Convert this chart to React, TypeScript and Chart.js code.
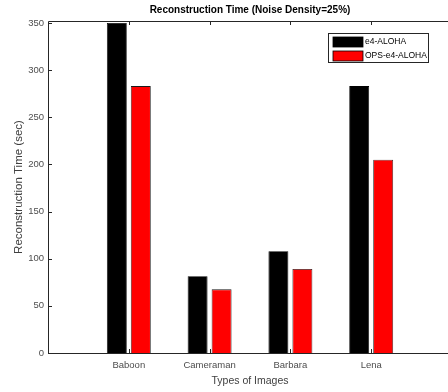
import React, { useEffect, useRef } from "react";
import { Chart, registerables } from "chart.js";

Chart.register(...registerables);

const categories = ["Baboon", "Cameraman", "Barbara", "Lena"];
const categoryPositions = [1, 2, 3, 4];
const e4Aloha = [350, 81.5, 108, 283];
const opsE4Aloha = [283, 67.5, 89, 205];
const yTicks = [0, 50, 100, 150, 200, 250, 300, 350];
const seriesNames = ["e4-ALOHA", "OPS-e4-ALOHA"];

const FONT = "'Liberation Sans', Arial, sans-serif";

const boxPlugin = {
  id: "matlabBox",
  afterDatasetsDraw(chart: any) {
    const { ctx, chartArea: a, scales } = chart;
    const xs = scales.x;
    const ys = scales.y;
    ctx.save();
    ctx.strokeStyle = "#262626";
    ctx.lineWidth = 1;
    ctx.beginPath();
    ctx.rect(Math.round(a.left) + 0.5, Math.round(a.top) + 0.5, Math.round(a.right - a.left), Math.round(a.bottom - a.top));
    ctx.stroke();
    const tl = 4;
    ctx.beginPath();
    yTicks.forEach((v) => {
      const py = Math.round(ys.getPixelForValue(v)) + 0.5;
      ctx.moveTo(a.left, py);
      ctx.lineTo(a.left + tl, py);
      ctx.moveTo(a.right, py);
      ctx.lineTo(a.right - tl, py);
    });
    categoryPositions.forEach((v) => {
      const px = Math.round(xs.getPixelForValue(v)) + 0.5;
      ctx.moveTo(px, a.top);
      ctx.lineTo(px, a.top + tl);
      ctx.moveTo(px, a.bottom);
      ctx.lineTo(px, a.bottom - tl);
    });
    ctx.stroke();

    // legend
    const lx = 328.5, ly = 33.5, lw = 100, lh = 29;
    ctx.fillStyle = "#ffffff";
    ctx.fillRect(lx, ly, lw, lh);
    ctx.strokeStyle = "#262626";
    ctx.strokeRect(lx, ly, lw, lh);
    ctx.font = `8.5px ${FONT}`;
    ctx.textBaseline = "middle";
    ctx.textAlign = "left";
    chart.data.datasets.forEach((ds: any, i: number) => {
      const cy = 42 + i * 14;
      ctx.fillStyle = ds.backgroundColor;
      ctx.fillRect(333, cy - 5, 30, 10);
      ctx.strokeStyle = "#000";
      ctx.lineWidth = 0.8;
      ctx.strokeRect(333, cy - 5, 30, 10);
      ctx.fillStyle = "#000";
      ctx.fillText(ds.label, 365, cy);
    });
    ctx.restore();
  },
};

export default function App() {
  const ref = useRef<HTMLCanvasElement>(null);
  useEffect(() => {
    if (!ref.current) return;
    const chart = new Chart(ref.current, {
      type: "bar",
      data: {
        datasets: [
          {
            label: seriesNames[0],
            data: categoryPositions.map((x, i) => ({ x, y: e4Aloha[i] })),
            backgroundColor: "#000000",
            borderColor: "#000000",
            borderWidth: 0.8,
          },
          {
            label: seriesNames[1],
            data: categoryPositions.map((x, i) => ({ x, y: opsE4Aloha[i] })),
            backgroundColor: "#ff0000",
            borderColor: "#1a1a1a",
            borderWidth: 0.8,
          },
        ],
      },
      options: {
        responsive: false,
        animation: false,
        categoryPercentage: 0.594,
        barPercentage: 0.83,
        layout: { padding: { left: 0, right: 4, top: 0, bottom: 0 } },
        plugins: {
          legend: { display: false },
          tooltip: { enabled: false },
          title: {
            display: true,
            text: "Reconstruction Time (Noise Density=25%)",
            fullSize: false,
            color: "#000000",
            font: { family: FONT, size: 10, weight: "bold" },
            padding: { top: 4, bottom: 5 },
          },
        },
        scales: {
          x: {
            type: "linear",
            offset: false,
            min: 0,
            max: 5,
            grid: { display: false, drawTicks: false, offset: false },
            border: { display: false },
            afterBuildTicks: (s: any) => {
              s.ticks = categoryPositions.map((v) => ({ value: v }));
            },
            afterFit: (s: any) => {
              s.height = 39;
            },
            ticks: {
              autoSkip: false,
              maxRotation: 0,
              padding: 7,
              color: "#4d4d4d",
              font: { family: FONT, size: 9.5 },
              callback: (v: any) => categories[categoryPositions.indexOf(Number(v))] ?? "",
            },
            title: {
              display: true,
              text: "Types of Images",
              color: "#404040",
              font: { family: FONT, size: 10.5 },
              padding: { top: 0, bottom: 5 },
            },
          },
          y: {
            type: "linear",
            min: 0,
            max: 352,
            grid: { display: false, drawTicks: false },
            border: { display: false },
            afterBuildTicks: (s: any) => {
              s.ticks = yTicks.map((v) => ({ value: v }));
            },
            afterFit: (s: any) => {
              s.width = 48;
            },
            ticks: {
              padding: 4,
              color: "#4d4d4d",
              font: { family: FONT, size: 9.5 },
            },
            title: {
              display: true,
              text: "Reconstruction Time (sec)",
              color: "#404040",
              font: { family: FONT, size: 11.5 },
              padding: { top: 12, bottom: 0 },
            },
          },
        },
      },
      plugins: [boxPlugin],
    } as any);
    return () => chart.destroy();
  }, []);
  return (
    <div style={{ position: "absolute", left: 0, top: 0, width: 448, height: 392, overflow: "hidden", background: "#fff" }}>
      <canvas ref={ref} width={456} height={392} style={{ display: "block", width: 456, height: 392 }} />
    </div>
  );
}
